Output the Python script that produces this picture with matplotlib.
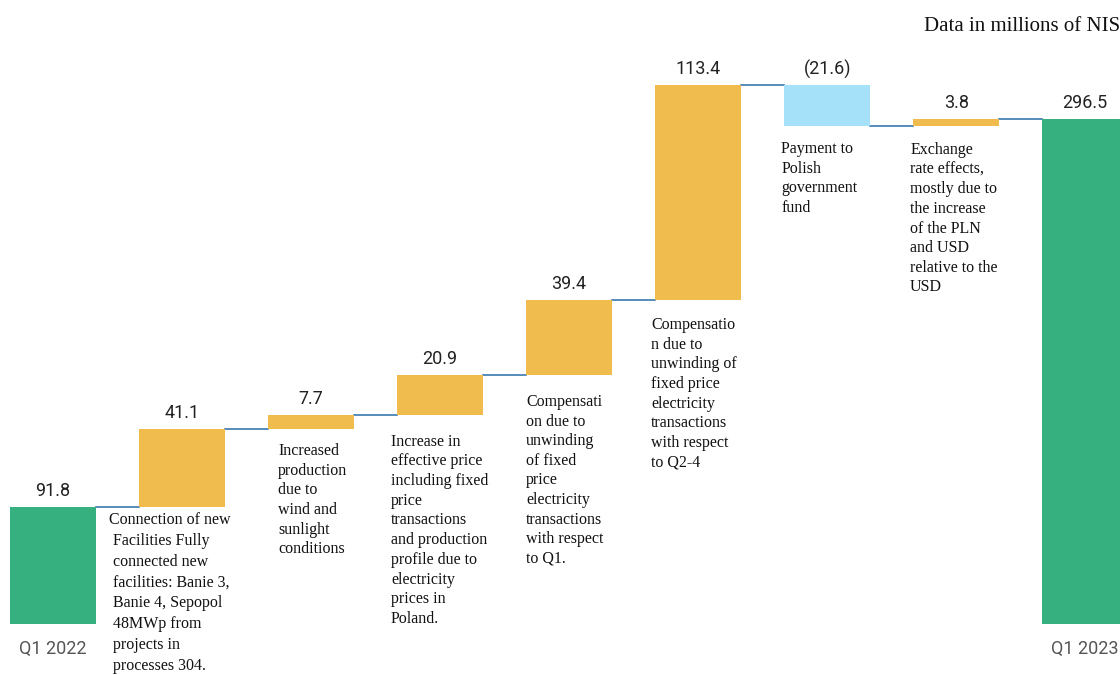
import matplotlib.pyplot as plt

categories = ["Q1 2022", "", "", "", "", "", "", "", "Q1 2023"]
values = [91.8, 41.1, 7.7, 20.9, 39.4, 113.4, -21.6, 3.8, 296.5]
value_labels = ["91.8", "41.1", "7.7", "20.9", "39.4", "113.4", "(21.6)", "3.8", "296.5"]
is_total = [True, False, False, False, False, False, False, False, True]
notes = [
    "",
    "Connection of new\n Facilities Fully\n connected new\n facilities: Banie 3,\n Banie 4, Sepopol\n 48MWp from\n projects in\n processes 304.",
    "Increased\nproduction\ndue to\nwind and\nsunlight\nconditions",
    "Increase in\neffective price\nincluding fixed\nprice\ntransactions\nand production\nprofile due to\nelectricity\nprices in\nPoland.",
    "Compensati\non due to\nunwinding\nof fixed\nprice\nelectricity\ntransactions\nwith respect\nto Q1.",
    "Compensatio\nn due to\nunwinding of\nfixed price\nelectricity\ntransactions\nwith respect\nto Q2-4",
    "Payment to\nPolish\ngovernment\nfund",
    "Exchange\nrate effects,\nmostly due to\nthe increase\nof the PLN\nand USD\nrelative to the\nUSD",
    "",
]
# note offsets (pixels) from lower-left corner of each bar
note_dx = [0, -30, 10, -6, 0, -4, -3, -3, 0]
note_dy = [0, -5, -14, -19, -19, -17, -15, -16, 0]
note_spacing = [1.3, 1.4, 1.3, 1.31, 1.3, 1.3, 1.3, 1.3, 1.3]

BASE = 30  # totals are drawn from a truncated baseline
GREEN = "#36b07e"
GOLD = "#f0bc4d"
BLUE = "#a6e1fa"
LINE = "#3a78b0"
W = 0.667

fig = plt.figure(figsize=(11.2, 6.75), dpi=100)
ax = fig.add_axes([0, 0, 1, 1])
ax.set_xlim(-0.411, 8.27)
ax.set_ylim(3.2, 359.3)
ax.axis("off")

cum = []
running = 0
for i, v in enumerate(values):
    if is_total[i]:
        running = v
        bottom, top = BASE, v
        color = GREEN
    else:
        bottom = min(running, running + v)
        top = max(running, running + v)
        running += v
        color = GOLD if v >= 0 else BLUE
    cum.append(running)
    ax.bar(i, top - bottom, bottom=bottom, width=W, color=color, zorder=2)
    ax.annotate(value_labels[i], xy=(i, top), xytext=(0, 11), textcoords="offset pixels",
                ha="center", va="baseline", fontsize=13, family="Roboto", color="#222222")
    if categories[i]:
        ax.annotate(categories[i], xy=(i, BASE), xytext=(0, -16), textcoords="offset pixels",
                    ha="center", va="top", fontsize=13, family="Roboto", color="#555555")
    if notes[i]:
        ax.annotate(notes[i], xy=(i - W / 2, bottom), xytext=(note_dx[i], note_dy[i]),
                    textcoords="offset pixels", ha="left", va="top", fontsize=11.5,
                    family="Liberation Serif", color="#111111", linespacing=note_spacing[i])

for i in range(len(values) - 1):
    ax.plot([i + W / 2, i + 1 - W / 2], [cum[i], cum[i]], color=LINE, lw=1.2, zorder=1)

fig.text(1.0, 1 - 31 / 675, "Data in millions of NIS", ha="right", va="baseline",
         fontsize=15, family="Liberation Serif", color="#111111")

plt.savefig("out.png", dpi=100)
plt.close()
